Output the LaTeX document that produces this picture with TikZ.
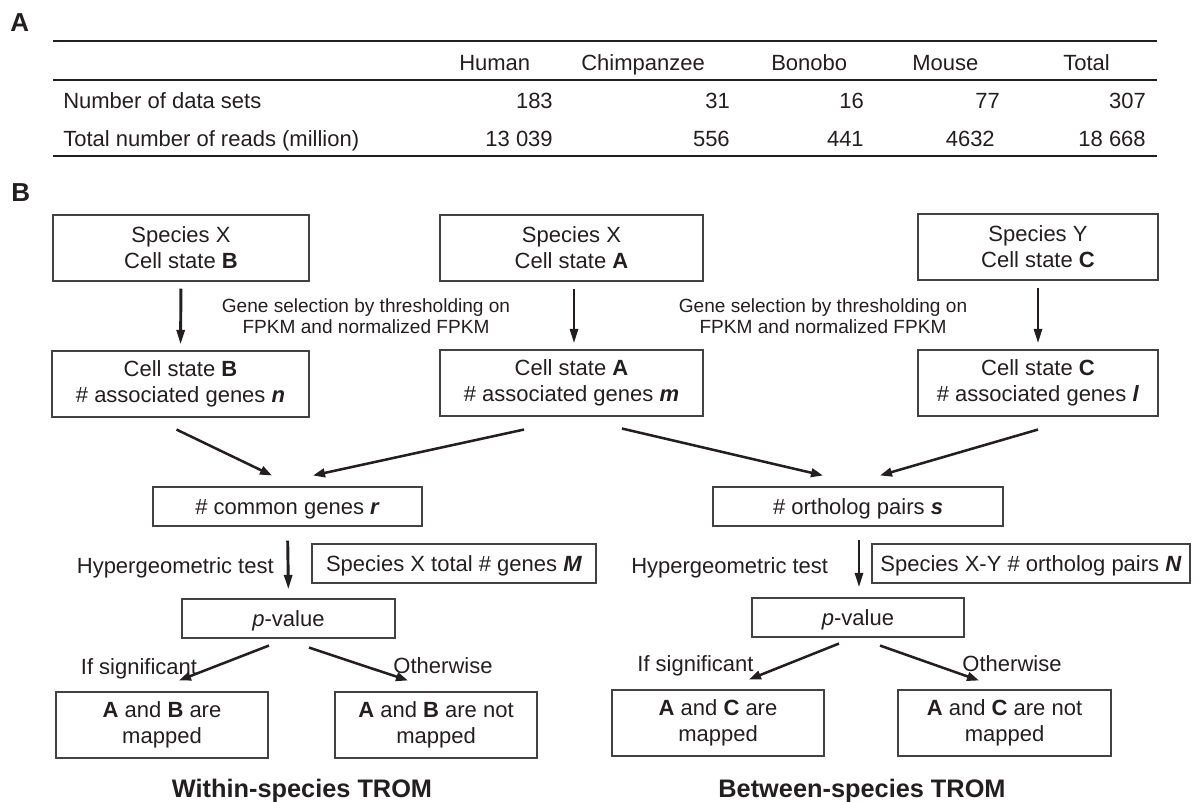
\documentclass[tikz,border=0pt]{standalone}
\usepackage{fontspec}
\setmainfont{Liberation Sans}
\usetikzlibrary{arrows.meta}
\definecolor{ink}{RGB}{35,31,32}
\begin{document}
\begin{tikzpicture}[x=0.75pt,y=-0.75pt,
  every node/.style={text=ink, inner sep=0pt},
  txt/.style={font=\fontsize{16.5}{19.5}\selectfont},
  small/.style={font=\fontsize{14.3}{15.75}\selectfont, align=center},
  panel/.style={font=\fontsize{19.5}{22}\selectfont\bfseries},
  ttl/.style={font=\fontsize{19}{22}\selectfont\bfseries},
  bx/.style n args={2}{draw=ink!85, line width=0.8pt, minimum width=#1*0.75pt, minimum height=#2*0.75pt, align=center, font=\fontsize{16.5}{19.5}\selectfont},
  sbx/.style n args={2}{bx={#1}{#2}, text height=11.8pt, text depth=0pt},
  rule/.style={draw=ink, line width=1.5pt},
  darr/.style={draw=ink, line width=2.2pt, -{Triangle[length=11pt,width=6pt]}},
  darrd/.style={draw=ink, line width=1.9pt, -{Triangle[length=9pt,width=6.5pt]}}
]
\useasboundingbox (0,0) rectangle (1200,801);

% ---------- Panel A ----------
\node[panel, anchor=base west] (lblA) at (10,31) {A};
\draw[rule] (53,41) -- (1157,41);
\draw[rule] (53,80) -- (1157,80);
\draw[rule] (53,156) -- (1157,156);

\node[txt, anchor=base west] (hHum) at (459,70) {Human};
\node[txt, anchor=base west] (hChi) at (581,70) {Chimpanzee};
\node[txt, anchor=base west] (hBon) at (771,70) {Bonobo};
\node[txt, anchor=base west] (hMou) at (912,70) {Mouse};
\node[txt, anchor=base west] (hTot) at (1063,70) {Total};

\node[txt, anchor=base west] (r1) at (63,108) {Number of data sets};
\node[txt, anchor=base east] (r1a) at (553,108) {183};
\node[txt, anchor=base east] (r1b) at (730,108) {31};
\node[txt, anchor=base east] (r1c) at (864,108) {16};
\node[txt, anchor=base east] (r1d) at (1000,108) {77};
\node[txt, anchor=base east] (r1e) at (1146,108) {307};

\node[txt, anchor=base west] (r2) at (63,146) {Total number of reads (million)};
\node[txt, anchor=base east] (r2a) at (553,146) {13 039};
\node[txt, anchor=base east] (r2b) at (730,146) {556};
\node[txt, anchor=base east] (r2c) at (864,146) {441};
\node[txt, anchor=base east] (r2d) at (995,146) {4632};
\node[txt, anchor=base east] (r2e) at (1146,146) {18 668};

% ---------- Panel B ----------
\node[panel, anchor=base west] (lblB) at (11,201) {B};

\node[bx={256}{66}] (B1) at (181,248) {Species X\\Cell state \textbf{B}};
\node[bx={263}{66}] (A1) at (571.5,248) {Species X\\Cell state \textbf{A}};
\node[bx={240}{66}] (C1) at (1038,247) {Species Y\\Cell state \textbf{C}};

\node[bx={257}{66}] (B2) at (180.5,384) {Cell state \textbf{B}\\\# associated genes \textbf{\textit{n}}};
\node[bx={263}{66}] (A2) at (571.5,383) {Cell state \textbf{A}\\\# associated genes \textbf{\textit{m}}};
\node[bx={240}{66}] (C2) at (1038,383) {Cell state \textbf{C}\\\# associated genes \textbf{\textit{l}}};

\draw[darr, shorten <=5.25pt, shorten >=5.25pt] (B1.south) -- ([yshift=-0.75pt]B2.north);
\draw[darr, shorten <=5.25pt, shorten >=5.25pt] ([xshift=2.5*0.75pt]A1.south) -- ([xshift=2.5*0.75pt,yshift=-0.75pt]A2.north);
\draw[darr, shorten <=5.25pt, shorten >=5.25pt] (C1.south) -- ([yshift=-0.75pt]C2.north);

\node[small] (gs1) at (366,316.5) {Gene selection by thresholding on\\FPKM and normalized FPKM};
\node[small] (gs2) at (823,316.5) {Gene selection by thresholding on\\FPKM and normalized FPKM};

\node[sbx={269}{39}] (com) at (287.5,506.5) {\# common genes \textbf{\textit{r}}};
\node[sbx={290}{39}] (ort) at (858,506.5) {\# ortholog pairs \textbf{\textit{s}}};

\draw[darrd] ([shift={(-4,12)}]B2.south) -- ([shift={(-15.5,-11)}]com.north);
\draw[darrd] ([shift={(-47.5,13)}]A2.south) -- ([shift={(25.5,-11)}]com.north);
\draw[darrd] ([shift={(50.5,12)}]A2.south) -- ([shift={(-35,-11)}]ort.north);
\draw[darrd] ([shift={(0,13)}]C2.south) -- ([shift={(22,-11)}]ort.north);

\node[sbx={284}{39}] (Mbox) at (454,563.5) {Species X total \# genes \textbf{\textit{M}}};
\node[sbx={318}{39}] (Nbox) at (1031,563.5) {Species X-Y \# ortholog pairs \textbf{\textit{N}}};

\node[sbx={213}{39}] (pL) at (288.5,618.5) {\textit{p}-value};
\node[sbx={212}{39}] (pR) at (858,617.5) {\textit{p}-value};

\draw[darr, shorten <=10.5pt, shorten >=6.75pt] (com.south) -- (pL.north);
\draw[darr, shorten <=9.75pt, shorten >=7.5pt] ([xshift=0.75pt]ort.south) -- ([xshift=0.75pt]pR.north);

\node[txt, anchor=base east] (hypL) at (274,573) {Hypergeometric test};
\node[txt, anchor=base west] (hypR) at (631,573) {Hypergeometric test};

\node[bx={212}{66}] (L1) at (162,725) {\textbf{A} and \textbf{B} are\\mapped};
\node[bx={202}{66}] (L2) at (436,725) {\textbf{A} and \textbf{B} are not\\mapped};
\node[bx={212}{66}] (R1) at (718,723) {\textbf{A} and \textbf{C} are\\mapped};
\node[bx={213}{66}] (R2) at (1004.5,723) {\textbf{A} and \textbf{C} are not\\mapped};

\node[txt, anchor=base] (sigL) at (139,674) {If significant};
\node[txt, anchor=base] (othL) at (443,673) {Otherwise};
\node[txt, anchor=base] (sigR) at (695.5,671) {If significant};
\node[txt, anchor=base] (othR) at (1012,671) {Otherwise};

\draw[darrd] ([shift={(-19.5,7)}]pL.south) -- ([shift={(17,-11)}]L1.north);
\draw[darrd] ([shift={(20.5,9)}]pL.south) -- ([shift={(-28,-11)}]L2.north);
\draw[darrd] ([shift={(-19,6)}]pR.south) -- ([shift={(31,-10)}]R1.north);
\draw[darrd] ([shift={(22,8)}]pR.south) -- ([shift={(-25.5,-9)}]R2.north);

\node[ttl, anchor=base] (tW) at (302,797) {Within-species TROM};
\node[ttl, anchor=base] (tB) at (862,797) {Between-species TROM};
\end{tikzpicture}
\end{document}
